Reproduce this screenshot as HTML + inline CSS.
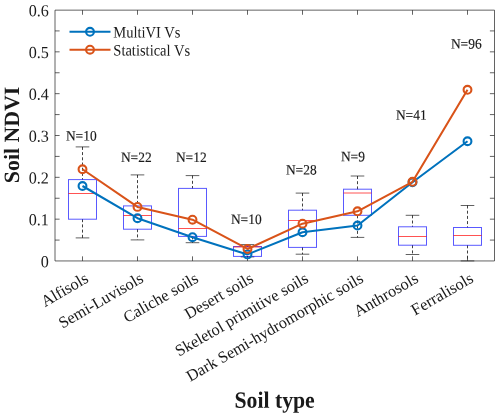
<!DOCTYPE html>
<html><head><meta charset="utf-8"><title>Soil NDVI</title>
<style>
html,body{margin:0;padding:0;background:#fff;}
body{width:500px;height:417px;overflow:hidden;font-family:"Liberation Serif",serif;}
svg{display:block;will-change:transform;}
svg text{font-family:"Liberation Serif",serif;fill:#1a1a1a;}
</style></head><body>
<svg width="500" height="417" viewBox="0 0 500 417">
<rect width="500" height="417" fill="#fff"/>
<g fill="none" stroke-width="1">
<line x1="82.5" y1="146.9" x2="82.5" y2="179.6" stroke="#000" stroke-dasharray="3 2.2" stroke-opacity="0.75"/>
<line x1="82.5" y1="219.2" x2="82.5" y2="237.9" stroke="#000" stroke-dasharray="3 2.2" stroke-opacity="0.75"/>
<line x1="75.7" y1="146.9" x2="89.3" y2="146.9" stroke="#000" stroke-opacity="0.62"/>
<line x1="75.7" y1="237.9" x2="89.3" y2="237.9" stroke="#000" stroke-opacity="0.62"/>
<rect x="68.5" y="179.6" width="28" height="39.6" stroke="#0000ff" stroke-opacity="0.65"/>
<line x1="68.5" y1="193.5" x2="96.5" y2="193.5" stroke="#ff0000" stroke-opacity="0.68"/>
<line x1="137.5" y1="174.9" x2="137.5" y2="205.9" stroke="#000" stroke-dasharray="3 2.2" stroke-opacity="0.75"/>
<line x1="137.5" y1="229.2" x2="137.5" y2="239.9" stroke="#000" stroke-dasharray="3 2.2" stroke-opacity="0.75"/>
<line x1="130.7" y1="174.9" x2="144.3" y2="174.9" stroke="#000" stroke-opacity="0.62"/>
<line x1="130.7" y1="239.9" x2="144.3" y2="239.9" stroke="#000" stroke-opacity="0.62"/>
<rect x="123.5" y="205.9" width="28" height="23.3" stroke="#0000ff" stroke-opacity="0.65"/>
<line x1="123.5" y1="215.5" x2="151.5" y2="215.5" stroke="#ff0000" stroke-opacity="0.68"/>
<line x1="192.5" y1="175.6" x2="192.5" y2="188.4" stroke="#000" stroke-dasharray="3 2.2" stroke-opacity="0.75"/>
<line x1="192.5" y1="236.4" x2="192.5" y2="242.7" stroke="#000" stroke-dasharray="3 2.2" stroke-opacity="0.75"/>
<line x1="185.7" y1="175.6" x2="199.3" y2="175.6" stroke="#000" stroke-opacity="0.62"/>
<line x1="185.7" y1="242.7" x2="199.3" y2="242.7" stroke="#000" stroke-opacity="0.62"/>
<rect x="178.5" y="188.4" width="28" height="48.0" stroke="#0000ff" stroke-opacity="0.65"/>
<line x1="178.5" y1="228.5" x2="206.5" y2="228.5" stroke="#ff0000" stroke-opacity="0.68"/>
<line x1="247.5" y1="244.6" x2="247.5" y2="246.5" stroke="#000" stroke-dasharray="3 2.2" stroke-opacity="0.75"/>
<line x1="247.5" y1="256.4" x2="247.5" y2="256.9" stroke="#000" stroke-dasharray="3 2.2" stroke-opacity="0.75"/>
<line x1="240.7" y1="244.6" x2="254.3" y2="244.6" stroke="#000" stroke-opacity="0.62"/>
<line x1="240.7" y1="256.9" x2="254.3" y2="256.9" stroke="#000" stroke-opacity="0.62"/>
<rect x="233.5" y="246.5" width="28" height="9.9" stroke="#0000ff" stroke-opacity="0.65"/>
<line x1="233.5" y1="247.0" x2="261.5" y2="247.0" stroke="#ff0000" stroke-opacity="0.68"/>
<line x1="302.5" y1="193.1" x2="302.5" y2="210.2" stroke="#000" stroke-dasharray="3 2.2" stroke-opacity="0.75"/>
<line x1="302.5" y1="247.4" x2="302.5" y2="254.2" stroke="#000" stroke-dasharray="3 2.2" stroke-opacity="0.75"/>
<line x1="295.7" y1="193.1" x2="309.3" y2="193.1" stroke="#000" stroke-opacity="0.62"/>
<line x1="295.7" y1="254.2" x2="309.3" y2="254.2" stroke="#000" stroke-opacity="0.62"/>
<rect x="288.5" y="210.2" width="28" height="37.2" stroke="#0000ff" stroke-opacity="0.65"/>
<line x1="288.5" y1="220.5" x2="316.5" y2="220.5" stroke="#ff0000" stroke-opacity="0.68"/>
<line x1="357.5" y1="176.0" x2="357.5" y2="189.2" stroke="#000" stroke-dasharray="3 2.2" stroke-opacity="0.75"/>
<line x1="357.5" y1="215.3" x2="357.5" y2="237.4" stroke="#000" stroke-dasharray="3 2.2" stroke-opacity="0.75"/>
<line x1="350.7" y1="176.0" x2="364.3" y2="176.0" stroke="#000" stroke-opacity="0.62"/>
<line x1="350.7" y1="237.4" x2="364.3" y2="237.4" stroke="#000" stroke-opacity="0.62"/>
<rect x="343.5" y="189.2" width="28" height="26.1" stroke="#0000ff" stroke-opacity="0.65"/>
<line x1="343.5" y1="193.0" x2="371.5" y2="193.0" stroke="#ff0000" stroke-opacity="0.68"/>
<line x1="412.5" y1="215.3" x2="412.5" y2="226.8" stroke="#000" stroke-dasharray="3 2.2" stroke-opacity="0.75"/>
<line x1="412.5" y1="245.2" x2="412.5" y2="254.5" stroke="#000" stroke-dasharray="3 2.2" stroke-opacity="0.75"/>
<line x1="405.7" y1="215.3" x2="419.3" y2="215.3" stroke="#000" stroke-opacity="0.62"/>
<line x1="405.7" y1="254.5" x2="419.3" y2="254.5" stroke="#000" stroke-opacity="0.62"/>
<rect x="398.5" y="226.8" width="28" height="18.4" stroke="#0000ff" stroke-opacity="0.65"/>
<line x1="398.5" y1="236.5" x2="426.5" y2="236.5" stroke="#ff0000" stroke-opacity="0.68"/>
<line x1="467.5" y1="205.5" x2="467.5" y2="227.5" stroke="#000" stroke-dasharray="3 2.2" stroke-opacity="0.75"/>
<line x1="467.5" y1="245.3" x2="467.5" y2="260.9" stroke="#000" stroke-dasharray="3 2.2" stroke-opacity="0.75"/>
<line x1="460.7" y1="205.5" x2="474.3" y2="205.5" stroke="#000" stroke-opacity="0.62"/>
<line x1="460.7" y1="260.9" x2="474.3" y2="260.9" stroke="#000" stroke-opacity="0.62"/>
<rect x="453.5" y="227.5" width="28" height="17.8" stroke="#0000ff" stroke-opacity="0.65"/>
<line x1="453.5" y1="235.5" x2="481.5" y2="235.5" stroke="#ff0000" stroke-opacity="0.68"/>
</g>
<g stroke="#262626" stroke-width="0.72" fill="none">
<path d="M55.0 10.15H494.5V260.95H55.0Z"/>
<line x1="55.0" y1="240.08" x2="59.6" y2="240.08"/><line x1="494.5" y1="240.08" x2="489.9" y2="240.08"/>
<line x1="55.0" y1="219.17" x2="59.6" y2="219.17"/><line x1="494.5" y1="219.17" x2="489.9" y2="219.17"/>
<line x1="55.0" y1="198.25" x2="59.6" y2="198.25"/><line x1="494.5" y1="198.25" x2="489.9" y2="198.25"/>
<line x1="55.0" y1="177.33" x2="59.6" y2="177.33"/><line x1="494.5" y1="177.33" x2="489.9" y2="177.33"/>
<line x1="55.0" y1="156.42" x2="59.6" y2="156.42"/><line x1="494.5" y1="156.42" x2="489.9" y2="156.42"/>
<line x1="55.0" y1="135.50" x2="59.6" y2="135.50"/><line x1="494.5" y1="135.50" x2="489.9" y2="135.50"/>
<line x1="55.0" y1="114.58" x2="59.6" y2="114.58"/><line x1="494.5" y1="114.58" x2="489.9" y2="114.58"/>
<line x1="55.0" y1="93.67" x2="59.6" y2="93.67"/><line x1="494.5" y1="93.67" x2="489.9" y2="93.67"/>
<line x1="55.0" y1="72.75" x2="59.6" y2="72.75"/><line x1="494.5" y1="72.75" x2="489.9" y2="72.75"/>
<line x1="55.0" y1="51.83" x2="59.6" y2="51.83"/><line x1="494.5" y1="51.83" x2="489.9" y2="51.83"/>
<line x1="55.0" y1="30.92" x2="59.6" y2="30.92"/><line x1="494.5" y1="30.92" x2="489.9" y2="30.92"/>
<line x1="82.5" y1="260.95" x2="82.5" y2="256.34999999999997"/><line x1="82.5" y1="10.15" x2="82.5" y2="14.75"/>
<line x1="137.5" y1="260.95" x2="137.5" y2="256.34999999999997"/><line x1="137.5" y1="10.15" x2="137.5" y2="14.75"/>
<line x1="192.5" y1="260.95" x2="192.5" y2="256.34999999999997"/><line x1="192.5" y1="10.15" x2="192.5" y2="14.75"/>
<line x1="247.5" y1="260.95" x2="247.5" y2="256.34999999999997"/><line x1="247.5" y1="10.15" x2="247.5" y2="14.75"/>
<line x1="302.5" y1="260.95" x2="302.5" y2="256.34999999999997"/><line x1="302.5" y1="10.15" x2="302.5" y2="14.75"/>
<line x1="357.5" y1="260.95" x2="357.5" y2="256.34999999999997"/><line x1="357.5" y1="10.15" x2="357.5" y2="14.75"/>
<line x1="412.5" y1="260.95" x2="412.5" y2="256.34999999999997"/><line x1="412.5" y1="10.15" x2="412.5" y2="14.75"/>
<line x1="467.5" y1="260.95" x2="467.5" y2="256.34999999999997"/><line x1="467.5" y1="10.15" x2="467.5" y2="14.75"/>
</g>
<polyline points="82.5,186.00 137.5,218.21 192.5,237.20 247.5,254.40 302.5,232.23 357.5,225.53 412.5,182.24 467.5,141.24" fill="none" stroke="#0072BD" stroke-width="2.05" stroke-linejoin="round"/>
<circle cx="82.5" cy="186.00" r="3.9" fill="none" stroke="#0072BD" stroke-width="2.1"/>
<circle cx="137.5" cy="218.21" r="3.9" fill="none" stroke="#0072BD" stroke-width="2.1"/>
<circle cx="192.5" cy="237.20" r="3.9" fill="none" stroke="#0072BD" stroke-width="2.1"/>
<circle cx="247.5" cy="254.40" r="3.9" fill="none" stroke="#0072BD" stroke-width="2.1"/>
<circle cx="302.5" cy="232.23" r="3.9" fill="none" stroke="#0072BD" stroke-width="2.1"/>
<circle cx="357.5" cy="225.53" r="3.9" fill="none" stroke="#0072BD" stroke-width="2.1"/>
<circle cx="412.5" cy="182.24" r="3.9" fill="none" stroke="#0072BD" stroke-width="2.1"/>
<circle cx="467.5" cy="141.24" r="3.9" fill="none" stroke="#0072BD" stroke-width="2.1"/>
<polyline points="82.5,169.27 137.5,206.92 192.5,219.68 247.5,248.96 302.5,223.65 357.5,211.31 412.5,181.82 467.5,89.78" fill="none" stroke="#D95319" stroke-width="2.05" stroke-linejoin="round"/>
<circle cx="82.5" cy="169.27" r="3.9" fill="none" stroke="#D95319" stroke-width="2.1"/>
<circle cx="137.5" cy="206.92" r="3.9" fill="none" stroke="#D95319" stroke-width="2.1"/>
<circle cx="192.5" cy="219.68" r="3.9" fill="none" stroke="#D95319" stroke-width="2.1"/>
<circle cx="247.5" cy="248.96" r="3.9" fill="none" stroke="#D95319" stroke-width="2.1"/>
<circle cx="302.5" cy="223.65" r="3.9" fill="none" stroke="#D95319" stroke-width="2.1"/>
<circle cx="357.5" cy="211.31" r="3.9" fill="none" stroke="#D95319" stroke-width="2.1"/>
<circle cx="412.5" cy="181.82" r="3.9" fill="none" stroke="#D95319" stroke-width="2.1"/>
<circle cx="467.5" cy="89.78" r="3.9" fill="none" stroke="#D95319" stroke-width="2.1"/>
<g font-size="16.8" text-anchor="end">
<text transform="translate(48.85,267.20) rotate(0.03) scale(0.96,1)">0</text>
<text transform="translate(48.85,225.37) rotate(0.03) scale(0.96,1)">0.1</text>
<text transform="translate(48.85,183.53) rotate(0.03) scale(0.96,1)">0.2</text>
<text transform="translate(48.85,141.70) rotate(0.03) scale(0.96,1)">0.3</text>
<text transform="translate(48.85,99.87) rotate(0.03) scale(0.96,1)">0.4</text>
<text transform="translate(48.85,58.03) rotate(0.03) scale(0.96,1)">0.5</text>
<text transform="translate(48.85,16.20) rotate(0.03) scale(0.96,1)">0.6</text>
</g>
<g font-size="16.25" text-anchor="end">
<text transform="translate(89.5,281.4) rotate(-30)">Alfisols</text>
<text transform="translate(144.5,281.4) rotate(-30)">Semi-Luvisols</text>
<text transform="translate(199.5,281.4) rotate(-30)">Caliche soils</text>
<text transform="translate(254.5,281.4) rotate(-30)">Desert soils</text>
<text transform="translate(309.5,281.4) rotate(-30)">Skeletol primitive soils</text>
<text transform="translate(364.5,281.4) rotate(-30)">Dark Semi-hydromorphic soils</text>
<text transform="translate(419.5,281.4) rotate(-30)">Anthrosols</text>
<text transform="translate(474.5,281.4) rotate(-30)">Ferralisols</text>
</g>
<g font-size="14.3" fill="#111" stroke="#111" stroke-width="0.15">
<text transform="translate(65.9,140.6) rotate(0.03) scale(0.94,1)">N=10</text>
<text transform="translate(120.9,162.0) rotate(0.03) scale(0.94,1)">N=22</text>
<text transform="translate(175.9,162.0) rotate(0.03) scale(0.94,1)">N=12</text>
<text transform="translate(230.9,224.0) rotate(0.03) scale(0.94,1)">N=10</text>
<text transform="translate(285.9,174.4) rotate(0.03) scale(0.94,1)">N=28</text>
<text transform="translate(340.9,161.3) rotate(0.03) scale(0.94,1)">N=9</text>
<text transform="translate(395.9,119.85) rotate(0.03) scale(0.94,1)">N=41</text>
<text transform="translate(450.9,48.5) rotate(0.03) scale(0.94,1)">N=96</text>
</g>
<g fill="none" stroke-width="2.05">
<line x1="69.5" y1="31.8" x2="110.5" y2="31.8" stroke="#0072BD"/><circle cx="90" cy="31.8" r="3.9" stroke="#0072BD" stroke-width="2.1"/>
<line x1="69.5" y1="49.7" x2="110.5" y2="49.7" stroke="#D95319"/><circle cx="90" cy="49.7" r="3.9" stroke="#D95319" stroke-width="2.1"/>
</g>
<g font-size="15.9" fill="#111"><text transform="translate(113.3,37.4) rotate(0.03) scale(0.915,1)">MultiVI Vs</text><text transform="translate(113.3,55.6) rotate(0.03) scale(0.915,1)">Statistical Vs</text></g>
<text transform="translate(274.6,407.7) rotate(0.03) scale(0.933,1)" font-size="23.3" font-weight="bold" text-anchor="middle">Soil type</text>
<text transform="translate(19,135) rotate(-90.03)" font-size="21.8" font-weight="bold" text-anchor="middle">Soil NDVI</text>
</svg>
</body></html>
